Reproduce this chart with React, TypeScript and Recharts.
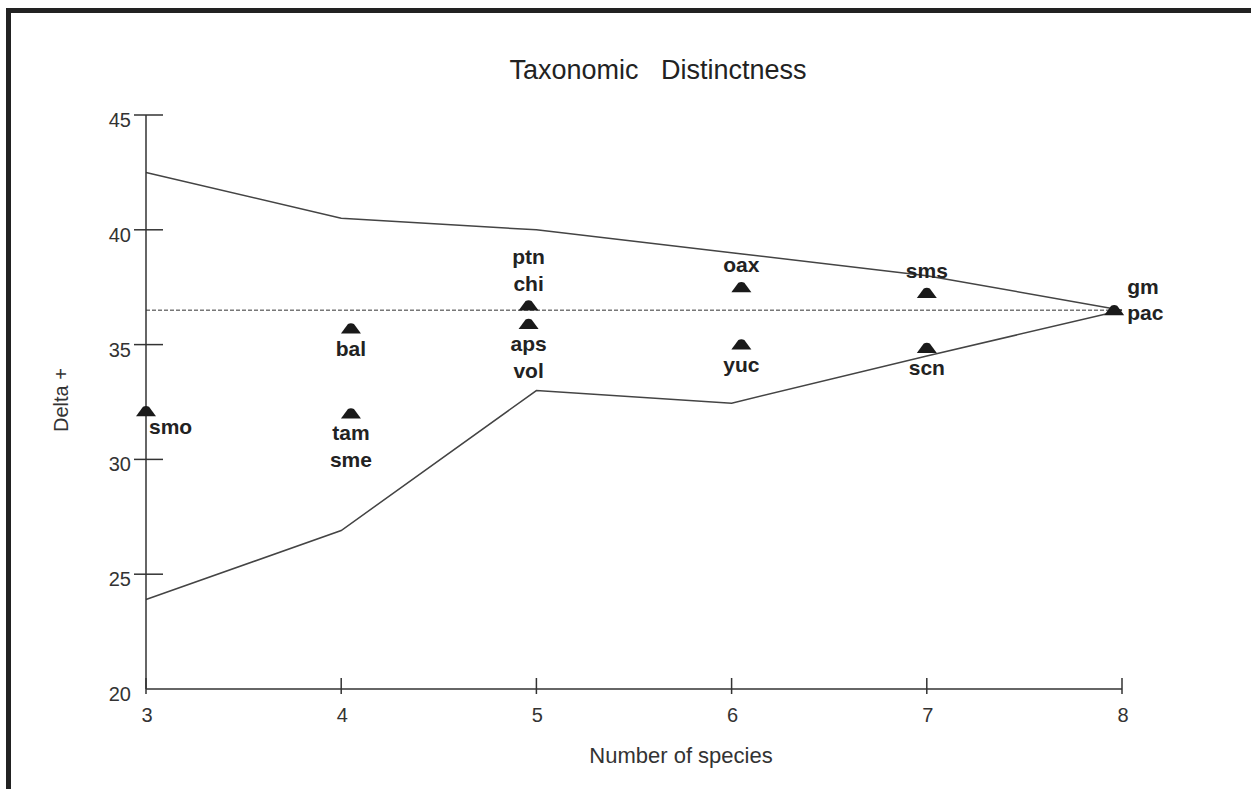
import React from 'react';
import { ComposedChart, Line, Scatter, XAxis, YAxis, Label } from 'recharts';

// funnel (95% limits) for delta+ by number of species
const speciesCounts = [3, 4, 5, 6, 7, 8];
const upperLimit = [42.5, 40.5, 40, 39, 38, 36.5];
const lowerLimit = [23.9, 26.9, 33, 32.45, 34.5, 36.5];
const meanDelta = 36.5;

// sites
const siteNames = [['smo'], ['bal'], ['tam', 'sme'], ['ptn', 'chi'], ['aps', 'vol'], ['oax'], ['yuc'], ['sms'], ['scn'], ['gm', 'pac']];
const siteSpecies = [3, 4.05, 4.05, 4.96, 4.96, 6.05, 6.05, 7, 7, 7.96];
const siteDelta = [32.1, 35.7, 32.0, 36.7, 35.9, 37.5, 35.0, 37.25, 34.85, 36.5];

const yTicks = [20, 25, 30, 35, 40, 45];

const funnelData = speciesCounts.map((n, i) => ({
  n,
  upper: upperLimit[i],
  lower: lowerLimit[i],
  mean: meanDelta,
}));

const siteData = siteNames.map((names, i) => ({
  n: siteSpecies[i],
  delta: siteDelta[i],
  names,
}));

const FONT = '"Liberation Sans", Arial, Helvetica, sans-serif';
const AXIS = '#333';

// where each site's label sits relative to its marker
const placement: Record<string, string> = {
  smo: 'rightBelow',
  bal: 'below',
  tam: 'below',
  ptn: 'above',
  aps: 'below',
  oax: 'above',
  yuc: 'below',
  sms: 'above',
  scn: 'below',
  gm: 'right',
};

const SiteMarker = (props: any) => {
  const { cx, cy, payload } = props;
  const names: string[] = payload.names;
  const where = placement[names[0]] || 'below';
  let x = cx;
  let anchor: 'middle' | 'start' = 'middle';
  let ys: number[] = [];
  if (where === 'below') ys = names.map((_, i) => cy + 27 + i * 27);
  if (where === 'above') ys = names.map((_, i) => cy - 15 - (names.length - 1 - i) * 27);
  if (where === 'rightBelow') {
    x = cx + 3;
    anchor = 'start';
    ys = [cy + 23];
  }
  if (where === 'right') {
    x = cx + 13;
    anchor = 'start';
    ys = [cy - 16, cy + 10];
  }
  return (
    <g>
      <path
        d={`M ${cx - 10} ${cy + 5} L ${cx - 3} ${cy - 4.5} Q ${cx} ${cy - 6} ${cx + 3} ${cy - 4.5} L ${cx + 10} ${cy + 5} Z`}
        fill="#1a1a1a"
      />
      {names.map((nm, i) => (
        <text key={nm} x={x} y={ys[i]} textAnchor={anchor} fontFamily={FONT} fontWeight="bold" fontSize={21} fill="#222">
          {nm}
        </text>
      ))}
    </g>
  );
};

const YTick = (props: any) => {
  const { x, y, payload } = props;
  return (
    <g>
      {payload.value !== 20 && <line x1={x - 12} x2={x + 17} y1={y} y2={y} stroke={AXIS} strokeWidth={1.5} />}
      <text x={x - 15} y={y + 12} textAnchor="end" fontFamily={FONT} fontSize={20} fill="#333">
        {payload.value}
      </text>
    </g>
  );
};

const XTick = (props: any) => {
  const { x, y, payload } = props;
  return (
    <g>
      <line x1={x} x2={x} y1={y - 11} y2={y + 5} stroke={AXIS} strokeWidth={1.5} />
      <text x={x + 1} y={y + 33} textAnchor="middle" fontFamily={FONT} fontSize={20} fill="#333">
        {payload.value}
      </text>
    </g>
  );
};

export default function App() {
  return (
    <div style={{ position: 'absolute', left: 0, top: 0, width: 1251, height: 789, overflow: 'hidden', background: '#fff' }}>
      <div
        style={{
          position: 'absolute',
          left: 6,
          top: 8,
          width: 1400,
          height: 1000,
          border: '5px solid #222',
          boxSizing: 'border-box',
        }}
      />
      <div
        style={{
          position: 'absolute',
          left: 458,
          width: 400,
          top: 55,
          textAlign: 'center',
          fontFamily: FONT,
          fontSize: 27,
          color: '#222',
          whiteSpace: 'pre',
        }}
      >
        {'Taxonomic   Distinctness'}
      </div>
      <div style={{ position: 'absolute', left: 0, top: 0 }}>
        <ComposedChart width={1251} height={789} data={funnelData} margin={{ top: 115, right: 129, bottom: 60, left: 0 }}>
          <XAxis
            type="number"
            dataKey="n"
            domain={[3, 8]}
            ticks={speciesCounts}
            height={40}
            stroke={AXIS}
            strokeWidth={1.5}
            tickLine={false}
            tickSize={0}
            tickMargin={0}
            tick={<XTick />}
          >
            <Label
              content={() => (
                <text x={681} y={763} textAnchor="middle" fontFamily={FONT} fontSize={22} fill="#333">
                  Number of species
                </text>
              )}
            />
          </XAxis>
          <YAxis
            type="number"
            domain={[20, 45]}
            ticks={yTicks}
            width={146}
            stroke={AXIS}
            strokeWidth={1.5}
            tickLine={false}
            tickSize={0}
            tickMargin={0}
            tick={<YTick />}
          >
            <Label
              content={() => (
                <text x={68} y={400} transform="rotate(-90 68 400)" textAnchor="middle" fontFamily={FONT} fontSize={20} fill="#333">
                  Delta +
                </text>
              )}
            />
          </YAxis>
          <Line dataKey="upper" stroke="#444" strokeWidth={1.5} dot={false} isAnimationActive={false} />
          <Line dataKey="lower" stroke="#444" strokeWidth={1.5} dot={false} isAnimationActive={false} />
          <Line dataKey="mean" stroke="#333" strokeWidth={1} strokeDasharray="4 2" dot={false} isAnimationActive={false} />
          <Scatter data={siteData} dataKey="delta" shape={<SiteMarker />} isAnimationActive={false} />
        </ComposedChart>
      </div>
    </div>
  );
}
